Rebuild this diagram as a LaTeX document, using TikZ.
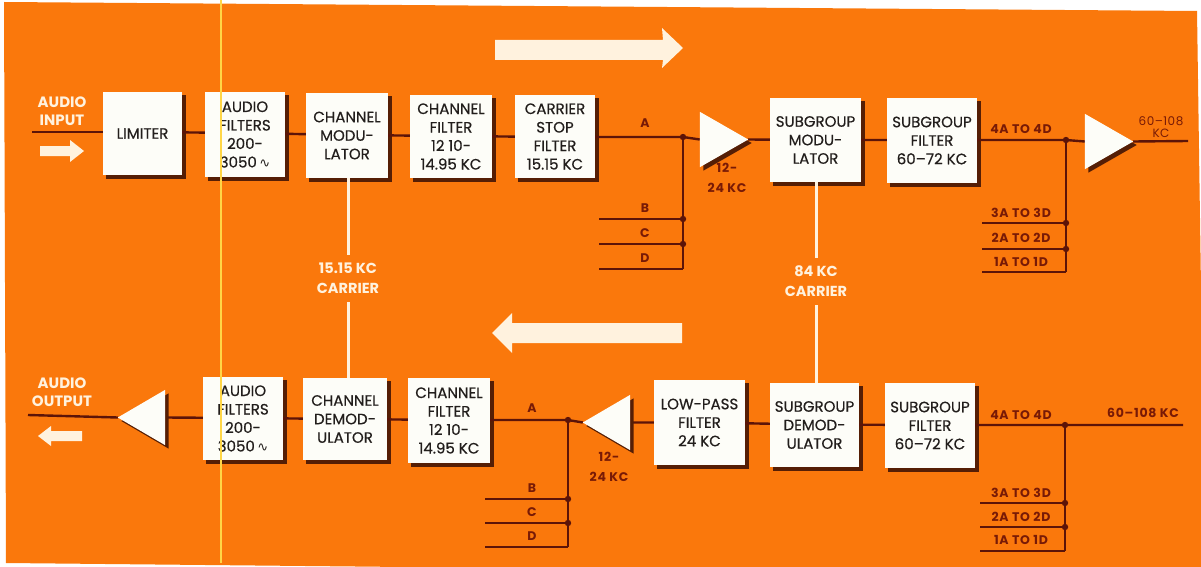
\documentclass[tikz,border=0pt]{standalone}
\usepackage{fontspec}
\setmainfont{Poppins}
\newfontfamily\dejavu{DejaVu Sans}
\definecolor{bg}{RGB}{250,120,12}
\definecolor{boxc}{RGB}{253,253,248}
\definecolor{txtc}{RGB}{34,30,28}
\definecolor{wirec}{RGB}{92,20,8}
\definecolor{lblc}{RGB}{120,26,6}
\definecolor{carc}{RGB}{255,242,222}
\definecolor{shadc}{RGB}{85,30,5}
\definecolor{yelc}{RGB}{255,214,70}
\pgfdeclarelayer{back}
\pgfdeclarelayer{shade}
\pgfsetlayers{back,shade,main}
\newcommand\bxfont{\addfontfeature{FakeBold=0.5}\fontsize{15}{18.5}\selectfont}
\newcommand\lbfont{\bfseries\addfontfeature{LetterSpace=6}\fontsize{12.5}{20}\selectfont}
\newcommand\crfont{\bfseries\fontsize{14.5}{20}\selectfont}
\newcommand\aufont{\bfseries\fontsize{15}{18}\selectfont}
\newcommand\sine{{\dejavu\fontsize{13}{13}\selectfont ∿}}
\begin{document}
\begin{tikzpicture}[x=1pt,y=-1pt,
  blk/.style={fill=boxc,text=txtc,font=\bxfont,align=center,inner sep=0pt},
  wire/.style={draw=wirec,line width=2.4pt},
  lbl/.style={text=lblc,font=\lbfont,inner sep=0pt,align=center},
  car/.style={text=carc,font=\crfont,align=center,inner sep=0pt,minimum height=47pt},
  carline/.style={draw=carc,line width=3pt},
  ampn/.style={inner sep=0pt,minimum width=48pt,minimum height=55pt},
  dotc/.style={fill=wirec},
  aud/.style={text=carc,font=\aufont,align=center,inner sep=0pt},
  bigarrow/.style={fill=carc}]
\useasboundingbox (0,0) rectangle (1201,567);
\begin{pgfonlayer}{back}
\fill[white] (0,0) rectangle (1201,567);
\fill[bg] (4,2) -- (1197,11) -- (1205,567) -- (1205,575) -- (6,563) -- cycle;
\end{pgfonlayer}

% big direction arrows
\fill[bigarrow] (495,40) -- (663,40) -- (662,28) -- (683,48) -- (662,68) -- (663,60) -- (495,60) -- cycle;
\fill[bigarrow] (682,323) -- (512,323) -- (512,313) -- (492,333) -- (512,353) -- (512,343) -- (682,343) -- cycle;

% audio labels and small arrows
\node[aud] (ain) at (62,111) {AUDIO\\INPUT};
\fill[bigarrow] (40,146) -- (70,146) -- (70,140) -- (84,151) -- (70,162) -- (70,156) -- (40,156) -- cycle;
\node[aud] (aout) at (62,392) {AUDIO\\OUTPUT};
\fill[bigarrow] (82,431) -- (51,431) -- (51,426) -- (38,436) -- (51,446) -- (51,441) -- (82,441) -- cycle;

% coordinates
\coordinate (in1) at (32,132);
\coordinate (j1) at (683,137);
\coordinate (j1b) at (683,219);
\coordinate (j1c) at (683,244);
\coordinate (j1d) at (683,269);
\coordinate (b1s) at (599,219);
\coordinate (c1s) at (599,244);
\coordinate (d1s) at (599,269);
\coordinate (j2) at (1066,140);
\coordinate (j2a) at (1066,223);
\coordinate (j2b) at (1066,249);
\coordinate (j2c) at (1066,272);
\coordinate (g3s) at (982,223);
\coordinate (g2s) at (982,249);
\coordinate (g1s) at (982,272);
\coordinate (out1) at (1188,141);
\coordinate (out0) at (28,415);
\coordinate (j3) at (568,420);
\coordinate (j3b) at (568,499);
\coordinate (j3c) at (568,523);
\coordinate (j3d) at (568,547);
\coordinate (b3s) at (485,499);
\coordinate (c3s) at (485,523);
\coordinate (d3s) at (485,547);
\coordinate (j4) at (1065,425);
\coordinate (j4a) at (1065,503);
\coordinate (j4b) at (1065,527);
\coordinate (j4c) at (1065,551);
\coordinate (h3s) at (980,503);
\coordinate (h2s) at (980,527);
\coordinate (h1s) at (980,551);
\coordinate (end2) at (1183,425);

% amplifier anchors
\node[ampn] (amp1) at (724,139.5) {};
\node[ampn] (amp2) at (1109,141.5) {};
\node[ampn,minimum width=47pt] (amp3) at (141.5,417.5) {};
\node[ampn,minimum width=47pt] (amp4) at (606.5,422.5) {};

% wires
\draw[wire] (in1) -- (142.5,132);
\draw[wire] (142.5,132) -- (245,133) -- (347,135) -- (451,136) -- (555,137) -- (j1) -- (amp1.west);
\draw[wire] (amp1.east) -- (815.5,140) -- (932,140) -- (j2) -- (amp2.west);
\draw[wire] (amp2.east) -- (out1);
\draw[wire] (j1) -- (j1d);
\draw[wire] (b1s) -- (j1b);
\draw[wire] (c1s) -- (j1c);
\draw[wire] (d1s) -- (j1d);
\draw[wire] (j2) -- (j2c);
\draw[wire] (g3s) -- (j2a);
\draw[wire] (g2s) -- (j2b);
\draw[wire] (g1s) -- (j2c);
\draw[wire] (out0) -- (amp3.west);
\draw[wire] (amp3.east) -- (243,418) -- (345,419) -- (449,420) -- (j3) -- (amp4.west);
\draw[wire] (amp4.east) -- (699.5,422.5) -- (814.5,424.5) -- (930,425) -- (j4) -- (end2);
\draw[wire] (j3) -- (j3d);
\draw[wire] (b3s) -- (j3b);
\draw[wire] (c3s) -- (j3c);
\draw[wire] (d3s) -- (j3d);
\draw[wire] (j4) -- (j4c);
\draw[wire] (h3s) -- (j4a);
\draw[wire] (h2s) -- (j4b);
\draw[wire] (h1s) -- (j4c);

% junction dots
\foreach \p in {j1,j1b,j1c,j2,j2a,j2b,j3,j3b,j3c,j4,j4a,j4b}
  \fill[dotc] (\p) circle (3.2pt);

% triangles
\fill[shadc] ([shift={(3.5,3.5)}]amp1.north west) -- ([shift={(3.5,3.5)}]amp1.east) -- ([shift={(3.5,3.5)}]amp1.south west) -- cycle;
\fill[boxc] (amp1.north west) -- (amp1.east) -- (amp1.south west) -- cycle;
\fill[shadc] ([shift={(3.5,3.5)}]amp2.north west) -- ([shift={(3.5,3.5)}]amp2.east) -- ([shift={(3.5,3.5)}]amp2.south west) -- cycle;
\fill[boxc] (amp2.north west) -- (amp2.east) -- (amp2.south west) -- cycle;
\fill[shadc] ([shift={(3.5,3.5)}]amp3.north east) -- ([shift={(3.5,3.5)}]amp3.west) -- ([shift={(3.5,3.5)}]amp3.south east) -- cycle;
\fill[boxc] (amp3.north east) -- (amp3.west) -- (amp3.south east) -- cycle;
\fill[shadc] ([shift={(3.5,3.5)}]amp4.north east) -- ([shift={(3.5,3.5)}]amp4.west) -- ([shift={(3.5,3.5)}]amp4.south east) -- cycle;
\fill[boxc] (amp4.north east) -- (amp4.west) -- (amp4.south east) -- cycle;

% blocks, top row
\node[blk,minimum width=79pt,minimum height=83pt] (lim) at (142.5,133.5) {LIMITER};
\node[blk,minimum width=80pt,minimum height=85pt] (af1) at (245,134.5) {AUDIO\\FILTERS\\200-\\3050\,\sine};
\node[blk,minimum width=82pt,minimum height=85pt] (cm) at (347,135.5) {CHANNEL\\MODU-\\LATOR};
\node[blk,minimum width=82pt,minimum height=83pt] (cf1) at (451,136.5) {CHANNEL\\FILTER\\12 10-\\14.95 KC};
\node[blk,minimum width=80pt,minimum height=83pt] (cs) at (555,136.5) {CARRIER\\STOP\\FILTER\\15.15 KC};
\node[blk,minimum width=91pt,minimum height=84pt] (sgm) at (815.5,140) {SUBGROUP\\MODU-\\LATOR};
\node[blk,minimum width=90pt,minimum height=85pt] (sgf1) at (932,140.5) {SUBGROUP\\FILTER\\60–72 KC};

% blocks, bottom row
\node[blk,minimum width=80pt,minimum height=83pt] (af2) at (243,418.5) {AUDIO\\FILTERS\\200-\\3050\,\sine};
\node[blk,minimum width=84pt,minimum height=82pt] (cd) at (345,419) {CHANNEL\\DEMOD-\\ULATOR};
\node[blk,minimum width=82pt,minimum height=85pt] (cf2) at (449,420.5) {CHANNEL\\FILTER\\12 10-\\14.95 KC};
\node[blk,minimum width=91pt,minimum height=85pt] (lp) at (699.5,422.5) {LOW-PASS\\FILTER\\24 KC};
\node[blk,minimum width=89pt,minimum height=84pt] (sgd) at (814.5,425) {SUBGROUP\\DEMOD-\\ULATOR};
\node[blk,minimum width=90pt,minimum height=85pt] (sgf2) at (930,425.5) {SUBGROUP\\FILTER\\60–72 KC};

% box shadows
\begin{pgfonlayer}{shade}
\foreach \n in {lim,af1,cm,cf1,cs,sgm,sgf1,af2,cd,cf2,lp,sgd,sgf2}
  \fill[shadc] ([shift={(3.5,3.5)}]\n.north west) rectangle ([shift={(3.5,3.5)}]\n.south east);
\end{pgfonlayer}

% carrier lines
\node[car] (car1) at (348,278.5) {15.15 KC\\CARRIER};
\node[car] (car2) at (816,281.5) {84 KC\\CARRIER};
\draw[carline] (cm.south -| car1) -- (car1.north);
\draw[carline] (car1.south) -- (cd.north -| car1);
\draw[carline] (sgm.south -| car2) -- (car2.north);
\draw[carline] (car2.south) -- (sgd.north -| car2);

% labels
\node[lbl] (la1) at (645,123) {A};
\node[lbl] (lb1) at (645,208) {B};
\node[lbl] (lc1) at (645,233) {C};
\node[lbl] (ld1) at (645,258) {D};
\node[lbl] (lk1) at (727,178) {12-\\24 KC};
\node[lbl] (l4a) at (1021,129) {4A TO 4D};
\node[lbl] (l3a) at (1021,213) {3A TO 3D};
\node[lbl] (l2a) at (1021,238) {2A TO 2D};
\node[lbl] (l1a) at (1021,262) {1A TO 1D};
\node[lbl,font=\addfontfeature{LetterSpace=4}\fontsize{12}{12.5}\selectfont] (lo1) at (1161,127) {60–108\\KC};
\node[lbl] (la3) at (532,408) {A};
\node[lbl] (lb3) at (532,488) {B};
\node[lbl] (lc3) at (532,512) {C};
\node[lbl] (ld3) at (532,536) {D};
\node[lbl] (lk3) at (609,467) {12-\\24 KC};
\node[lbl] (l4b) at (1021,415) {4A TO 4D};
\node[lbl] (l3b) at (1021,493) {3A TO 3D};
\node[lbl] (l2b) at (1021,517) {2A TO 2D};
\node[lbl] (l1b) at (1021,540) {1A TO 1D};
\node[lbl] (lo2) at (1143,413) {60–108 KC};

% scan line
\draw[yelc,line width=1.2pt] (221,0) -- (221,563);
\end{tikzpicture}
\end{document}
